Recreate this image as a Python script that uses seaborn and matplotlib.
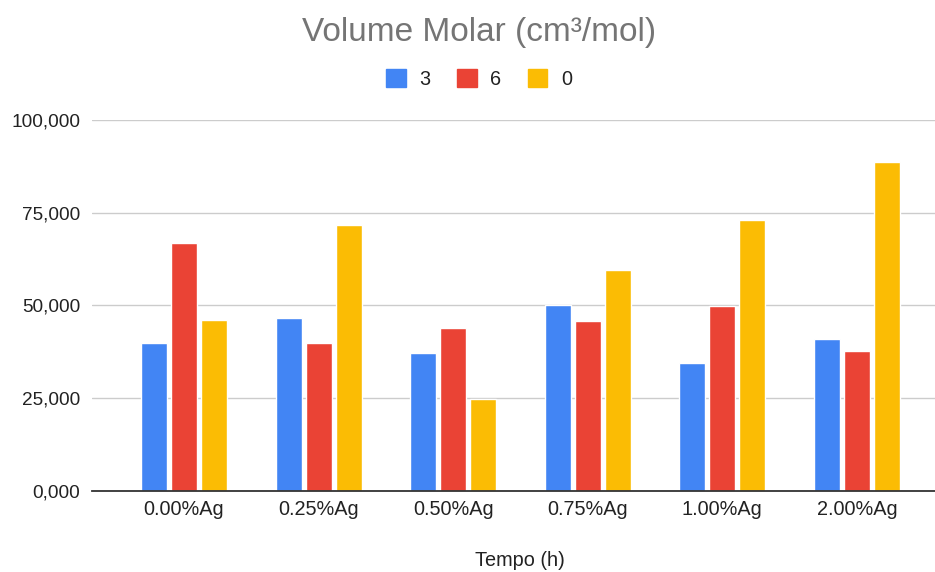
import matplotlib
matplotlib.use("Agg")
import matplotlib.pyplot as plt
import seaborn as sns
import pandas as pd
from matplotlib.ticker import FuncFormatter
from matplotlib.patches import Patch

# Molar volume per silver content, for each treatment time
categories = ["0.00%Ag", "0.25%Ag", "0.50%Ag", "0.75%Ag", "1.00%Ag", "2.00%Ag"]
series_names = ["3", "6", "0"]
values_3 = [39.8, 46.6, 37.2, 50.2, 34.4, 40.8]
values_6 = [66.7, 39.8, 43.9, 45.7, 49.7, 37.7]
values_0 = [46.1, 71.8, 24.7, 59.6, 73.1, 88.8]
y_ticks = [0, 25, 50, 75, 100]

colors = ["#4285F4", "#EA4335", "#FBBC04"]

df = pd.DataFrame({
    "categoria": categories * 3,
    "serie": [series_names[0]] * 6 + [series_names[1]] * 6 + [series_names[2]] * 6,
    "valor": values_3 + values_6 + values_0,
})

sns.set_theme(style="white")
plt.rcParams["font.family"] = ["Liberation Sans", "DejaVu Sans"]

fig = plt.figure(figsize=(9.35, 5.72), dpi=100)
ax = fig.add_axes([92 / 935, 81.3 / 572, 843 / 935, 370.7 / 572])

sns.barplot(
    data=df, x="categoria", y="valor", hue="serie",
    hue_order=series_names, order=categories,
    palette=colors, width=0.669, gap=0.133,
    saturation=1, errorbar=None, legend=False, ax=ax, zorder=3,
)

ax.set_xlim(-0.6835, 5.58)
ax.set_ylim(0, 100)
ax.set_yticks(y_ticks)
ax.yaxis.set_major_formatter(FuncFormatter(lambda v, _: f"{v:.3f}".replace(".", ",")))
ax.grid(axis="y", color="#cccccc", linewidth=1.0, zorder=0)
ax.grid(axis="x", visible=False)
for s in ["top", "right", "left"]:
    ax.spines[s].set_visible(False)
ax.spines["bottom"].set_color("#333333")
ax.spines["bottom"].set_linewidth(1.3)
ax.spines["bottom"].set_zorder(4)

ax.tick_params(axis="y", length=0, pad=8.6, labelsize=13.7, labelcolor="#222222")
ax.tick_params(axis="x", length=0, pad=6.5, labelsize=14.3, labelcolor="#222222")
ax.set_ylabel("")
ax.set_xlabel("")

fig.text(519.5 / 935, 1 - 560 / 572, "Tempo (h)", ha="center", va="center",
         fontsize=14.3, color="#222222")

fig.text(479 / 935, 1 - 33 / 572, "Volume Molar (cm³/mol)", ha="center", va="center",
         fontsize=24, color="#757575")

handles = [Patch(facecolor=c, edgecolor=c, label=n) for c, n in zip(colors, series_names)]
fig.legend(handles=handles, loc="center", bbox_to_anchor=(479 / 935, 1 - 79.3 / 572),
           ncol=3, frameon=False, fontsize=14.3, handlelength=1.0, handleheight=1.0,
           handletextpad=0.67, columnspacing=1.33, borderpad=0, labelcolor="#222222")

fig.savefig("out.png", dpi=100)
